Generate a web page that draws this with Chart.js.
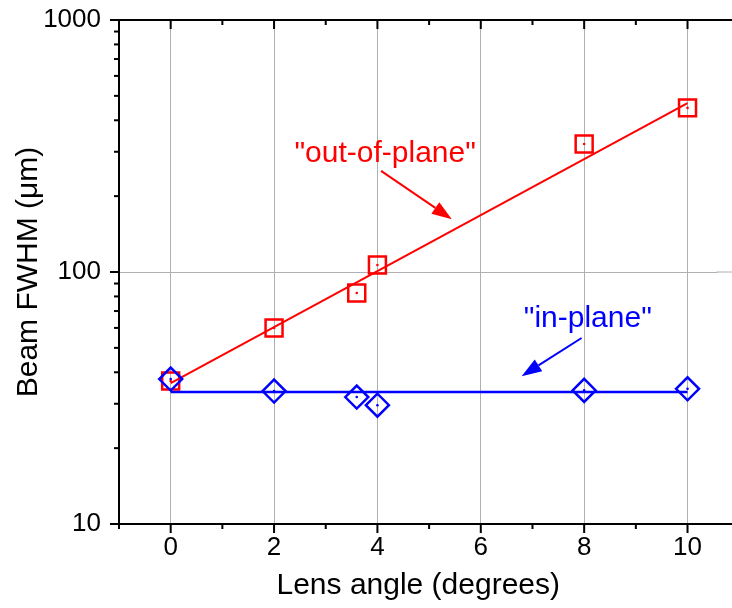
<!DOCTYPE html>
<html><head><meta charset="utf-8">
<script src="https://cdn.jsdelivr.net/npm/chart.js@4"></script>
<style>html,body{margin:0;padding:0;background:#fff}#wrap{width:732px;height:608px}</style>
</head><body><div id="wrap"><canvas id="c" width="732" height="608"></canvas></div>
<script>
// ---- data ----
const angles = [0, 2, 3.6, 4, 8, 10];
const outOfPlane = [36.9, 60, 82.5, 106.6, 322, 448];
const inPlane = [37.6, 33.7, 31.9, 29.6, 33.9, 34.4];
const fitAngles = [0, 10];
const outOfPlaneFit = [36.2, 468];
const inPlaneFit = [33.4, 33.4];
const xTicks = [-1, 0, 1, 2, 3, 4, 5, 6, 7, 8, 9, 10];
const xTickLabels = ['0', '2', '4', '6', '8', '10'];
const yTicks = [10, 20, 30, 40, 50, 60, 70, 80, 90, 100, 200, 300, 400, 500, 600, 700, 800, 900, 1000];
const yTickLabels = ['10', '100', '1000'];

const FONT = "'Liberation Sans', Arial, sans-serif";
const RED = '#ff0000', BLUE = '#0000ff';

const pts = (xs, ys) => xs.map((x, i) => ({x: x, y: ys[i]}));
const isMajorX = v => xTickLabels.includes(String(v));
const isMajorY = v => yTickLabels.includes(String(v));

// annotation anchors in data units
const notes = [
  {text: '"out-of-plane"', color: RED, tx: 4.15, ty: 295, ax0: 4.07, ay0: 252, ax1: 5.44, ay1: 162},
  {text: '"in-plane"', color: BLUE, tx: 8.07, ty: 65, ax0: 7.95, ay0: 54.7, ax1: 6.79, ay1: 38.6}
];

const decor = {
  id: 'decor',
  beforeDatasetsDraw(chart) {
    // continue the 100 grid line to the page edge
    const ctx = chart.ctx, a = chart.chartArea, p = chart.scales.y.getPixelForValue(100);
    ctx.save();
    ctx.strokeStyle = '#b0b0b0'; ctx.lineWidth = 1;
    ctx.beginPath(); ctx.moveTo(a.right - 1, p); ctx.lineTo(chart.width, p); ctx.stroke();
    ctx.restore();
  },
  afterDraw(chart) {
    const ctx = chart.ctx, a = chart.chartArea;
    const xs = chart.scales.x, ys = chart.scales.y;
    ctx.save();
    ctx.strokeStyle = '#000';
    ctx.lineWidth = 2;
    ctx.beginPath();
    ctx.moveTo(a.left - 1, a.top); ctx.lineTo(chart.width, a.top);
    ctx.moveTo(a.right - 1, a.bottom); ctx.lineTo(chart.width, a.bottom);
    ctx.stroke();
    xTicks.forEach(v => {
      const p = xs.getPixelForValue(v);
      const L = isMajorX(v) ? 9 : 5;
      ctx.beginPath();
      ctx.moveTo(p, a.top); ctx.lineTo(p, a.top + L);
      ctx.moveTo(p, a.bottom); ctx.lineTo(p, a.bottom + L);
      ctx.stroke();
    });
    yTicks.forEach(v => {
      const p = ys.getPixelForValue(v);
      const L = isMajorY(v) ? 9 : 5;
      ctx.beginPath();
      ctx.moveTo(a.left, p); ctx.lineTo(a.left - L, p);
      ctx.stroke();
    });
    notes.forEach(n => {
      ctx.fillStyle = n.color; ctx.strokeStyle = n.color;
      ctx.font = '30px ' + FONT;
      ctx.textAlign = 'center'; ctx.textBaseline = 'middle';
      ctx.fillText(n.text, xs.getPixelForValue(n.tx), ys.getPixelForValue(n.ty));
      const x0 = xs.getPixelForValue(n.ax0), y0 = ys.getPixelForValue(n.ay0);
      const x1 = xs.getPixelForValue(n.ax1), y1 = ys.getPixelForValue(n.ay1);
      const ang = Math.atan2(y1 - y0, x1 - x0);
      const hl = 20, hw = 7;
      const bx = x1 - hl * Math.cos(ang), by = y1 - hl * Math.sin(ang);
      ctx.lineWidth = 2;
      ctx.beginPath(); ctx.moveTo(x0, y0); ctx.lineTo(bx, by); ctx.stroke();
      ctx.beginPath();
      ctx.moveTo(x1, y1);
      ctx.lineTo(bx + hw * Math.sin(ang), by - hw * Math.cos(ang));
      ctx.lineTo(bx - hw * Math.sin(ang), by + hw * Math.cos(ang));
      ctx.closePath(); ctx.fill();
    });
    ctx.restore();
  }
};

new Chart(document.getElementById('c'), {
  type: 'scatter',
  data: {
    datasets: [
      {label: 'in-plane centres', data: pts(angles, inPlane), pointStyle: 'circle', pointRadius: 1.3, pointBackgroundColor: BLUE, pointBorderWidth: 0, showLine: false, order: 0},
      {label: 'out-of-plane centres', data: pts(angles, outOfPlane), pointStyle: 'circle', pointRadius: 1.3, pointBackgroundColor: RED, pointBorderWidth: 0, showLine: false, order: 1},
      {label: 'in-plane', data: pts(angles, inPlane), pointStyle: 'rectRot', pointRadius: 11.5, pointBorderColor: BLUE, pointBackgroundColor: 'rgba(0,0,0,0)', pointBorderWidth: 2.5, showLine: false, order: 2},
      {label: 'in-plane fit', data: pts(fitAngles, inPlaneFit), showLine: true, borderColor: BLUE, borderWidth: 2.5, pointRadius: 0, order: 3},
      {label: 'out-of-plane fit', data: pts(fitAngles, outOfPlaneFit), showLine: true, borderColor: RED, borderWidth: 2, pointRadius: 0, order: 4},
      {label: 'out-of-plane', data: pts(angles, outOfPlane), pointStyle: 'rect', pointRadius: 12, pointBorderColor: RED, pointBackgroundColor: 'rgba(0,0,0,0)', pointBorderWidth: 2.5, showLine: false, order: 5}
    ]
  },
  options: {
    responsive: false,
    devicePixelRatio: 1,
    animation: false,
    layout: {padding: {top: 20, right: 0, left: 0, bottom: 0}},
    plugins: {legend: {display: false}, tooltip: {enabled: false}},
    scales: {
      x: {
        type: 'linear', min: -1, max: 10.58,
        afterBuildTicks: s => { s.ticks = xTicks.map(v => ({value: v})); },
        afterFit: s => { s.height = 84; },
        ticks: {
          callback: v => isMajorX(v) ? String(v) : '',
          font: {family: FONT, size: 26}, color: '#000', padding: 0,
          autoSkip: false, maxRotation: 0
        },
        grid: {
          drawTicks: true, tickLength: 8, tickColor: 'rgba(0,0,0,0)', lineWidth: 1,
          color: c => (c.tick && isMajorX(c.tick.value)) ? '#b0b0b0' : 'rgba(0,0,0,0)'
        },
        border: {display: true, color: '#000', width: 2},
        title: {display: true, text: 'Lens angle (degrees)', color: '#000', font: {family: FONT, size: 30}, padding: {top: 0, bottom: 4}}
      },
      y: {
        type: 'logarithmic', min: 10, max: 1000,
        afterBuildTicks: s => { s.ticks = yTicks.map(v => ({value: v})); },
        afterFit: s => { s.width = 119; },
        ticks: {
          callback: v => isMajorY(v) ? String(v) : '',
          font: {family: FONT, size: 26}, color: '#000', padding: 0,
          autoSkip: false
        },
        grid: {
          drawTicks: true, tickLength: 18, tickColor: 'rgba(0,0,0,0)', lineWidth: 1,
          color: c => (c.tick && c.tick.value === 100) ? '#b0b0b0' : 'rgba(0,0,0,0)'
        },
        border: {display: true, color: '#000', width: 2},
        title: {display: true, text: 'Beam FWHM (μm)', color: '#000', font: {family: FONT, size: 30}, padding: {top: 11, bottom: 0}}
      }
    }
  },
  plugins: [decor]
});
</script></body></html>
